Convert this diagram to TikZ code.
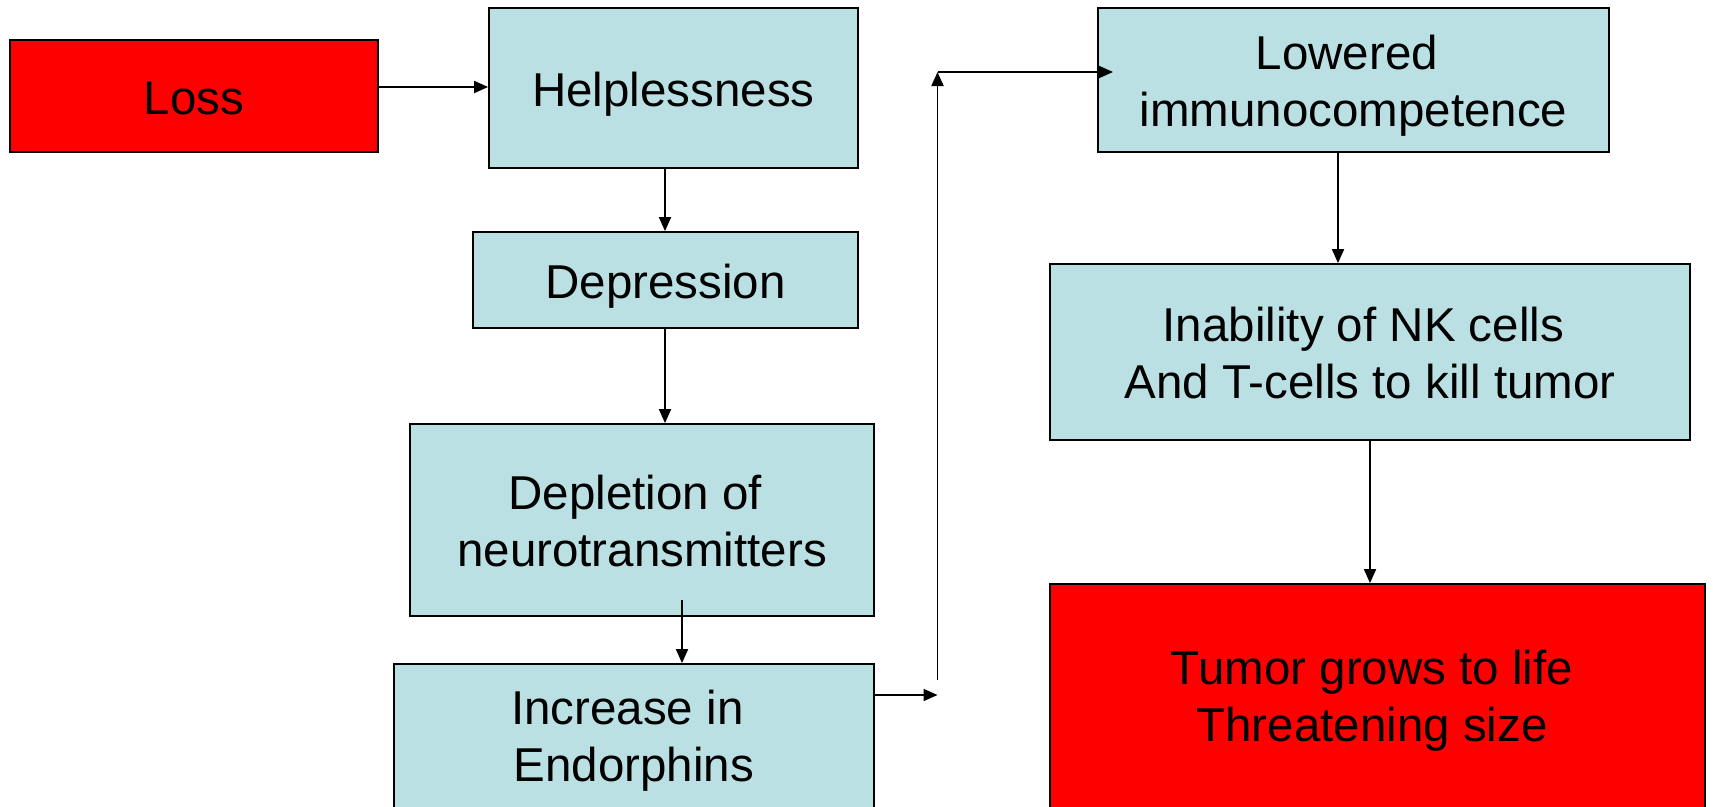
\documentclass[tikz,border=0pt]{standalone}
\usepackage{fontspec}
\setmainfont{Liberation Sans}
\usetikzlibrary{arrows.meta}
\definecolor{boxblue}{RGB}{187,224,227}
\definecolor{boxred}{RGB}{255,0,0}
\newcommand\mystrut{\rule[-10pt]{0pt}{45pt}}
\newcommand\trsp{\hbox to 13.2pt{}}
\tikzset{
  box/.style={draw=black, line width=1.8pt, fill=boxblue, inner sep=0pt},
  redbox/.style={box, fill=boxred},
  txt/.style={align=center, inner sep=0pt, font=\fontsize{47.5}{57}\selectfont, yshift=-5.5pt},
  conn/.style={line width=1.8pt, -{Triangle[length=14pt,width=12pt]}}
}
\begin{document}
\begin{tikzpicture}[x=1pt,y=-1pt]
\useasboundingbox (0,0) rectangle (1713,806);
\node[redbox, minimum width=368pt, minimum height=112pt,
  label={[txt, name=lossT]center:\mystrut Loss}] (loss) at (194,96) {};
\node[box, minimum width=369pt, minimum height=160pt,
  label={[txt, name=helpT]center:\mystrut Helplessness}] (help) at (673.5,88) {};
\node[box, minimum width=385pt, minimum height=96pt,
  label={[txt, name=depT]center:\mystrut Depression}] (dep) at (665.5,280) {};
\node[box, minimum width=464pt, minimum height=192pt,
  label={[txt, name=deplT]center:\mystrut Depletion of\trsp\\\mystrut neurotransmitters}] (depl) at (642,520) {};
\node[box, minimum width=480pt, minimum height=149pt,
  label={[txt, yshift=3.3pt, name=incrT]center:\mystrut Increase in\trsp\\\mystrut Endorphins}] (incr) at (634,738.5) {};
\node[box, minimum width=511pt, minimum height=144pt,
  label={[txt, name=lowT]center:\mystrut Lowered\trsp\\\mystrut immunocompetence}] (low) at (1353.5,80) {};
\node[box, minimum width=640pt, minimum height=176pt,
  label={[txt, name=inabT]center:\mystrut Inability of NK cells\trsp\\\mystrut And T-cells to kill tumor}] (inab) at (1370,352) {};
\node[redbox, minimum width=655pt, minimum height=227pt,
  label={[txt, xshift=-5.5pt, yshift=2.2pt, name=tumorT]center:\mystrut Tumor grows to life\\\mystrut Threatening size}] (tumor) at (1377.5,697.5) {};
\coordinate (c1) at (937.5,695);
\coordinate (c2) at (937.5,680);
\coordinate (c3) at (937.5,72);
\coordinate (c4) at (1113,72);
\coordinate (c5) at (682,600);
\draw[conn] (loss.east |- 0,87) -- (help.west |- 0,87);
\draw[conn] (help.south -| 665,0) -- (dep.north -| 665,0);
\draw[conn] (dep.south -| 665,0) -- (depl.north -| 665,0);
\draw[conn] (c5) -- (incr.north -| c5);
\draw[conn] (incr.east |- c1) -- (c1);
\draw[conn] (c2) -- (c3);
\draw[conn] (c3) -- (c4);
\draw[conn] (low.south -| 1338,0) -- (inab.north -| 1338,0);
\draw[conn] (inab.south -| 1370,0) -- (tumor.north -| 1370,0);
\end{tikzpicture}
\end{document}
